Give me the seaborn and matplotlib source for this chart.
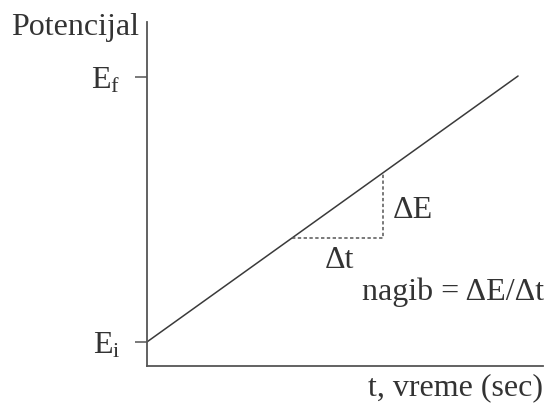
import matplotlib.pyplot as plt
import seaborn as sns
import pandas as pd

plt.switch_backend("agg")

# potential vs time (arbitrary units)
t_line = [0.0, 9.37]
e_line = [0.70, 8.43]

# slope triangle corners
tri_t = [3.65, 5.95, 5.95]
tri_e = [3.71, 3.71, 5.61]

e_ticks = [0.70, 8.40]
e_tick_labels = ["$\\mathregular{E_i}$", "$\\mathregular{E_f}$"]

sns.set_theme(style="white")
plt.rcParams["font.family"] = ["Liberation Serif", "DejaVu Serif"]
plt.rcParams["mathtext.fontset"] = "custom"
plt.rcParams["mathtext.rm"] = "Liberation Serif"

ink = "#333333"
fs = 23
fig = plt.figure(figsize=(5.48, 4.12), dpi=100)
ax = fig.add_axes([147 / 548, 46 / 412, 396 / 548, 344 / 412])

df = pd.DataFrame({"t": t_line, "E": e_line})
sns.lineplot(data=df, x="t", y="E", color="#3a3a3a", linewidth=1.1, ax=ax)
ax.plot(tri_t, tri_e, color="#555555", linestyle=(0, (2.2, 1.6)), linewidth=1.1)

ax.set_xlim(0, 10)
ax.set_ylim(0, 10)
ax.set_xticks([])
ax.set_yticks(e_ticks)
ax.set_yticklabels(e_tick_labels, fontsize=fs, color=ink)
ax.tick_params(axis="y", left=True, length=9, width=1.1, color="#555555", pad=10)

for side in ["top", "right"]:
    ax.spines[side].set_visible(False)
for side in ["left", "bottom"]:
    ax.spines[side].set_color("#555555")
    ax.spines[side].set_linewidth(1.3)

ax.set_xlabel("t, vreme (sec)", fontsize=fs, color=ink, loc="right", labelpad=5)
ax.set_ylabel("")
ax.text(-0.02, 0.985, "Potencijal", transform=ax.transAxes, ha="right", va="center",
        fontsize=fs, color=ink)

ax.text(6.21, 4.53, "ΔE", ha="left", va="center", fontsize=fs, color=ink)
ax.text(4.87, 3.08, "Δt", ha="center", va="center", fontsize=fs, color=ink)
ax.text(5.43, 2.15, "nagib = ΔE/Δt", ha="left", va="center", fontsize=fs, color=ink)

plt.savefig("out.png", dpi=100)
plt.close()
